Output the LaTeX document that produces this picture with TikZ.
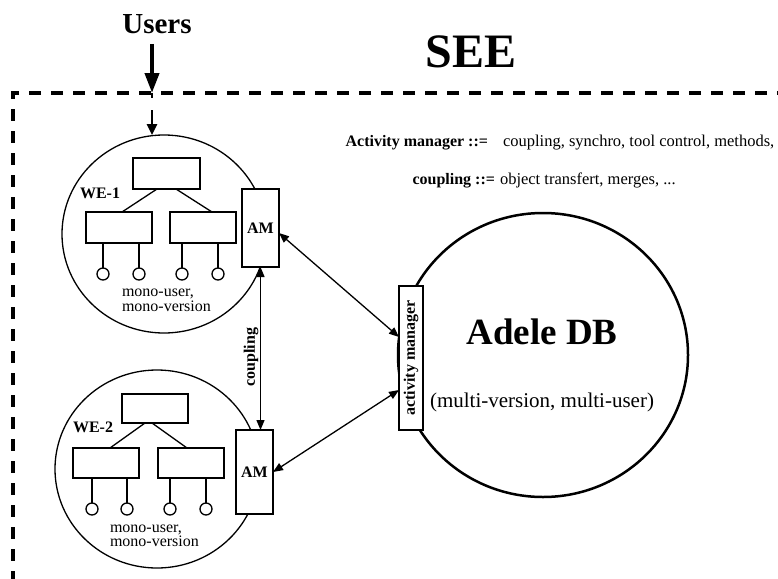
\documentclass[tikz,border=0pt]{standalone}
\usepackage{fontspec}
\setmainfont{Liberation Serif}
\usetikzlibrary{arrows.meta,shapes.geometric}
\begin{document}
\begin{tikzpicture}[x=1pt,y=-1pt,
  every node/.style={font=\fontsize{16}{16}\selectfont, inner sep=0pt, outer sep=0pt},
  lw/.style={line width=1.3pt},
  box/.style={draw, line width=1.3pt, fill=white, inner sep=0pt},
  leaf/.style={draw, line width=1.3pt, circle, minimum size=12pt, inner sep=0pt},
  wecircle/.style={draw, line width=1.3pt, ellipse, minimum width=204pt, minimum height=198pt, inner sep=0pt},
  dblarr/.style={line width=1.3pt, {Triangle[length=10pt,width=8pt]}-{Triangle[length=10pt,width=8pt]}},
  boldlbl/.style={font=\fontsize{16}{16}\selectfont\bfseries},
  deftext/.style={font=\fontsize{16.5}{16.5}\selectfont, anchor=base west},
  monotext/.style={font=\fontsize{16}{14.5}\selectfont, align=left, anchor=west},
  border/.style={line width=4pt, dash pattern=on 12pt off 10pt, dash phase=11pt}
]
\useasboundingbox (0,0) rectangle (778,578);

% titles
\node[font=\fontsize{29}{29}\selectfont\bfseries] (users) at (157,24) {Users};
\node[font=\fontsize{48}{48}\selectfont\bfseries] (see) at (471,52) {SEE};

% SEE border
\coordinate (bR) at (778,93);
\coordinate (bC) at (13,93);
\coordinate (bB) at (13,580);
\draw[border] (bR) -- (bC) -- (bB);

% definitions text
\node[boldlbl, anchor=base east] (amdefl) at (488,146) {Activity manager ::=};
\node[deftext] (amdefr) at (503,146) {coupling, synchro, tool control, methods,};
\node[boldlbl, anchor=base east] (cpdefl) at (495,184) {coupling ::=};
\node[deftext] (cpdefr) at (500,184) {object transfert, merges, ...};

% Users arrows
\coordinate (ua) at (152,44);
\coordinate (ub) at (152,93);
\draw[line width=4pt, -{Triangle[length=20pt,width=14pt]}] (ua) -- (ub);

% WE-1
\node[wecircle] (we1) at (164,234) {};
\draw[line width=2.5pt, dash pattern=on 5pt off 12pt on 40pt off 1pt, -{Triangle[length=11pt,width=10pt]}] (ub) -- (ub |- we1.north);
\node[box, minimum width=67pt, minimum height=31pt] (t1) at (166.5,173.5) {};
\node[box, minimum width=66pt, minimum height=31pt] (l1) at (119,227.5) {};
\node[box, minimum width=66pt, minimum height=31pt] (r1) at (203,227.5) {};
\draw[lw] ([xshift=-9.5pt]t1.south) -- ([xshift=3pt]l1.north);
\draw[lw] ([xshift=9.5pt]t1.south) -- ([xshift=9pt]r1.north);
\node[leaf] (c11) at (103,274) {};
\node[leaf] (c12) at (139,274) {};
\node[leaf] (c13) at (182,274) {};
\node[leaf] (c14) at (218,274) {};
\draw[lw] (l1.south -| c11) -- (c11);
\draw[lw] (l1.south -| c12) -- (c12);
\draw[lw] (r1.south -| c13) -- (c13);
\draw[lw] (r1.south -| c14) -- (c14);
\node[boldlbl] (we1lbl) at (100,193) {WE-1};
\node[monotext] (we1txt) at (122,300.5) {mono-user,\\mono-version};

% WE-2
\node[wecircle] (we2) at (157,469) {};
\node[box, minimum width=66pt, minimum height=29pt] (t2) at (155,408.5) {};
\node[box, minimum width=66pt, minimum height=30pt] (l2) at (106,463) {};
\node[box, minimum width=66pt, minimum height=30pt] (r2) at (191,463) {};
\draw[lw] ([xshift=-10pt]t2.south) -- ([xshift=4pt]l2.north);
\draw[lw] ([xshift=-3pt]t2.south) -- ([xshift=-4pt]r2.north);
\node[leaf] (c21) at (92,509) {};
\node[leaf] (c22) at (127,509) {};
\node[leaf] (c23) at (170,509) {};
\node[leaf] (c24) at (206,509) {};
\draw[lw] (l2.south -| c21) -- (c21);
\draw[lw] (l2.south -| c22) -- (c22);
\draw[lw] (r2.south -| c23) -- (c23);
\draw[lw] (r2.south -| c24) -- (c24);
\node[boldlbl] (we2lbl) at (93,427) {WE-2};
\node[monotext] (we2txt) at (110,536) {mono-user,\\mono-version};

% AM boxes
\node[box, minimum width=37pt, minimum height=78pt, boldlbl] (am1) at (260.5,228) {AM};
\node[box, minimum width=37pt, minimum height=84pt, boldlbl] (am2) at (254.5,472) {AM};

% Adele DB
\node[draw, ellipse, line width=2.5pt, minimum width=290pt, minimum height=284pt, inner sep=0pt] (adele) at (543,355) {};
\node[font=\fontsize{37}{37}\selectfont\bfseries] (adelelbl) at (542,332) {Adele DB};
\node[font=\fontsize{21}{21}\selectfont] (adeletxt) at (542,402) {(multi-version, multi-user)};
\node[box, minimum width=24pt, minimum height=144pt] (amgr) at (411,358) {};
\node[boldlbl, rotate=90] (amgrlbl) at (amgr) {activity manager};

% connectors
\draw[dblarr] ([yshift=-5pt]am1.east) -- ([yshift=21pt]amgr.west);
\draw[dblarr] (am2.east) -- ([yshift=-32pt]amgr.west);
\draw[dblarr] (am1.south) -- (am1.south |- am2.north);
\node[boldlbl, rotate=90] (cpl) at (251,357) {coupling};
\end{tikzpicture}
\end{document}
